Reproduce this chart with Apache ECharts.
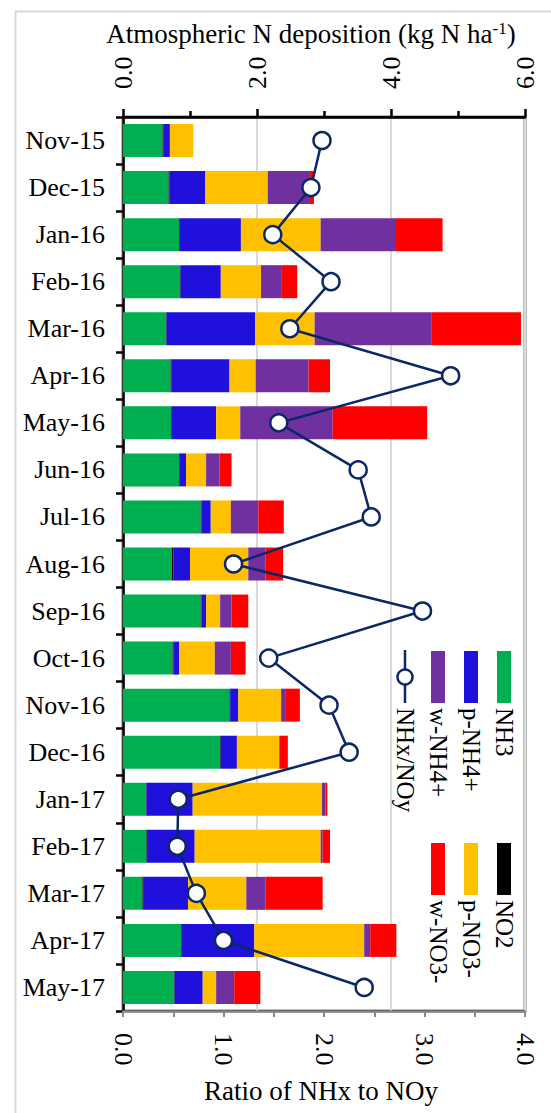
<!DOCTYPE html>
<html><head><meta charset="utf-8">
<script src="https://cdn.jsdelivr.net/npm/echarts/dist/echarts.min.js"></script>
<style>html,body{margin:0;padding:0;background:#fff}#c{width:551px;height:1113px}</style>
</head><body><div id="c"></div>
<script>
const categories = ['Nov-15','Dec-15','Jan-16','Feb-16','Mar-16','Apr-16','May-16','Jun-16','Jul-16','Aug-16','Sep-16','Oct-16','Nov-16','Dec-16','Jan-17','Feb-17','Mar-17','Apr-17','May-17'];
const nh3  = [0.59,0.68,0.84,0.85,0.64,0.71,0.72,0.84,1.16,0.73,1.16,0.74,1.59,1.45,0.34,0.35,0.29,0.87,0.76];
const no2  = [0.01,0.01,0.01,0.01,0.01,0.01,0.01,0.01,0.01,0.02,0.01,0.01,0.01,0.01,0.01,0.02,0.01,0.01,0.01];
const pNH4 = [0.10,0.54,0.91,0.60,1.32,0.87,0.66,0.09,0.14,0.25,0.07,0.09,0.12,0.24,0.69,0.70,0.67,1.08,0.42];
const pNO3 = [0.35,0.93,1.19,0.60,0.89,0.39,0.36,0.30,0.30,0.87,0.21,0.53,0.64,0.63,1.93,1.88,0.87,1.64,0.20];
const wNH4 = [0.00,0.63,1.11,0.30,1.74,0.79,1.38,0.20,0.41,0.26,0.17,0.24,0.06,0.01,0.05,0.03,0.29,0.09,0.27];
const wNO3 = [0.00,0.06,0.71,0.24,1.34,0.32,1.41,0.18,0.38,0.26,0.25,0.22,0.22,0.12,0.03,0.11,0.85,0.39,0.39];
const ratio = [1.98,1.87,1.49,2.07,1.66,3.26,1.55,2.34,2.47,1.10,2.98,1.45,2.05,2.25,0.55,0.54,0.73,1.00,2.40];
const depTicks = [0,2,4,6];
const ratioTicks = [0,1,2,3,4];

const FONT = "'Liberation Serif','Times New Roman',serif";
const NAVY = '#0b2864';
const barDefs = [
  {name:'NH3', data:nh3, color:'#00b050'},
  {name:'NO2', data:no2, color:'#000000'},
  {name:'p-NH4+', data:pNH4, color:'#2010dc'},
  {name:'p-NO3-', data:pNO3, color:'#ffc000'},
  {name:'w-NH4+', data:wNH4, color:'#7030a0'},
  {name:'w-NO3-', data:wNO3, color:'#ff0000'}
];

const chart = echarts.init(document.getElementById('c'), null, {renderer:'svg'});

const series = barDefs.map(d => ({
  name:d.name, type:'bar', stack:'dep', xAxisIndex:0, yAxisIndex:0,
  data:d.data, barWidth:33, itemStyle:{color:d.color}, z:2
}));
series.push({
  name:'NHx/NOy', type:'line', xAxisIndex:1, yAxisIndex:0, data:ratio,
  symbol:'circle', symbolSize:17, z:5,
  lineStyle:{color:NAVY, width:2.5},
  itemStyle:{color:'#fff', borderColor:NAVY, borderWidth:2.5}
});

// legend (rotated 90° clockwise, built from graphic elements)
const legendCols = [504, 471, 438, 405];
const legendLayout = [
  {name:'NH3', col:0, grp:0}, {name:'p-NH4+', col:1, grp:0}, {name:'w-NH4+', col:2, grp:0}, {name:'NHx/NOy', col:3, grp:0, line:true},
  {name:'NO2', col:0, grp:1}, {name:'p-NO3-', col:1, grp:1}, {name:'w-NO3-', col:2, grp:1}
];
const grpTop = [651, 843];
const graphics = [
  {type:'rect', shape:{x:15.5, y:11.5, width:700, height:1300}, style:{fill:'none', stroke:'#d9d9d9', lineWidth:2}, silent:true, z:-10}
];
legendLayout.forEach(it => {
  const cx = legendCols[it.col], y0 = grpTop[it.grp];
  if (it.line) {
    graphics.push({type:'line', shape:{x1:cx, y1:y0-1, x2:cx, y2:y0+52}, style:{stroke:NAVY, lineWidth:2.5}, z:20});
    graphics.push({type:'circle', shape:{cx:cx, cy:y0+26, r:7.5}, style:{fill:'#fff', stroke:NAVY, lineWidth:2.5}, z:21});
  } else {
    const def = barDefs.find(b => b.name === it.name);
    graphics.push({type:'rect', shape:{x:cx-7, y:y0, width:14, height:52}, style:{fill:def.color}, z:20});
  }
  graphics.push({type:'text', x:cx, y:y0+57, rotation:-Math.PI/2,
    style:{text:it.name, font:'25px '+FONT, fill:'#000', textAlign:'left', textVerticalAlign:'middle'}, z:20});
});

chart.setOption({
  animation:false,
  grid:{left:123, right:26, top:117, bottom:102, show:true, borderColor:'#000', borderWidth:2.5, backgroundColor:'transparent'},
  xAxis:[
    {type:'value', position:'top', min:0, max:6, interval:2,
     name:'{a|Atmospheric N deposition (kg N ha}{sup|-1}{a|)}', nameLocation:'middle', nameGap:70,
     nameTextStyle:{fontFamily:FONT, fontSize:27, color:'#000', padding:[0,26,0,0],
       rich:{a:{fontFamily:FONT, fontSize:27, color:'#000'}, sup:{fontFamily:FONT, fontSize:17, color:'#000', verticalAlign:'top', padding:[0,0,10,0]}}},
     axisLine:{show:true, lineStyle:{color:'#000', width:2.5}},
     axisTick:{show:true, length:8, lineStyle:{color:'#000', width:2.5}},
     minorTick:{show:true, splitNumber:2, length:6, lineStyle:{color:'#000', width:2.5}},
     splitLine:{show:true, lineStyle:{color:'#d9d9d9', width:2}},
     axisLabel:{rotate:-90, margin:28, fontFamily:FONT, fontSize:26, color:'#000', formatter:v => depTicks.includes(v) ? v.toFixed(1) : ''}},
    {type:'value', position:'bottom', min:0, max:4, interval:1,
     name:'Ratio of NHx to NOy', nameLocation:'middle', nameGap:66,
     nameTextStyle:{fontFamily:FONT, fontSize:27, color:'#000', padding:[0,6,0,0]},
     axisLine:{show:true, lineStyle:{color:'#898989', width:2.5}},
     axisTick:{show:true, length:6, lineStyle:{color:'#898989', width:2}},
     minorTick:{show:true, splitNumber:2, length:6, lineStyle:{color:'#898989', width:2}},
     splitLine:{show:false},
     axisLabel:{rotate:-90, margin:22, fontFamily:FONT, fontSize:26, color:'#000', formatter:v => ratioTicks.includes(v) ? v.toFixed(1) : ''}}
  ],
  yAxis:[{type:'category', data:categories, inverse:true,
    axisLine:{show:true, lineStyle:{color:'#000', width:2.5}},
    axisTick:{show:true, length:7, lineStyle:{color:'#000', width:2.5}},
    axisLabel:{margin:18, fontFamily:FONT, fontSize:26, color:'#000'}
  }],
  series:series,
  graphic:graphics
});
</script>
</body></html>
